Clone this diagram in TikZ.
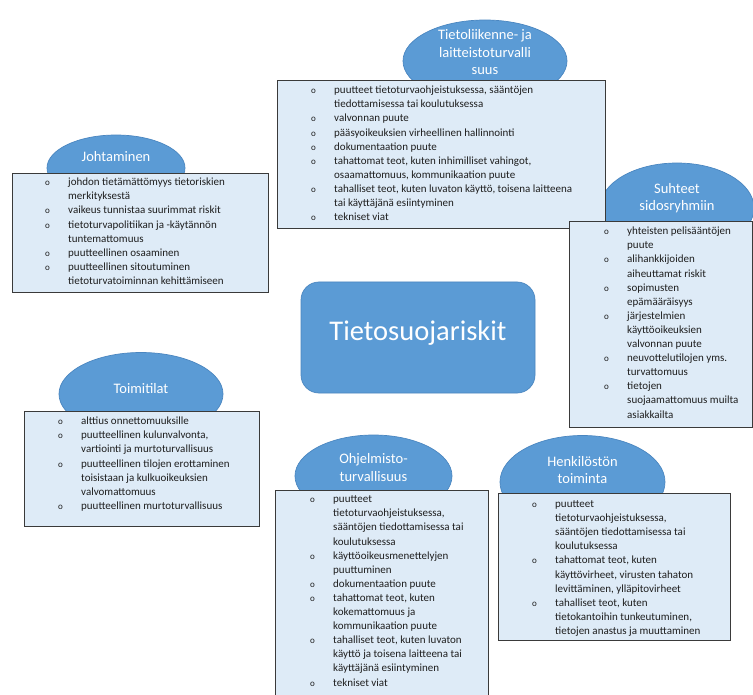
\documentclass[tikz,border=0pt]{standalone}
\usepackage{fontspec}
\setmainfont{Carlito}
\usetikzlibrary{shapes.geometric}
\definecolor{ellfill}{HTML}{5B9BD5}
\definecolor{elldraw}{HTML}{4A86C0}
\definecolor{boxfill}{HTML}{DEEBF7}
\definecolor{boxdraw}{HTML}{3A3A3A}
\definecolor{txt}{HTML}{1E1E1E}
\newcommand\bu{\makebox[23pt][l]{\fontsize{9}{14.1}\selectfont o}}
\newcommand\blist[1]{\begin{tabular}{@{}l@{}l@{}}#1\end{tabular}}
\begin{document}
\begin{tikzpicture}[x=1pt,y=-1pt,
  ell/.style={ellipse, fill=ellfill, draw=elldraw, line width=0.7pt, inner sep=0pt},
  elltext/.style={text=white, font=\fontsize{14.5}{17.5}\selectfont, align=center, inner sep=0pt},
  riskbox/.style={rectangle, fill=boxfill, draw=boxdraw, line width=1.3pt, anchor=north west, inner sep=0pt},
  listtext/.style={anchor=north west, inner sep=0pt, text=txt, font=\fontsize{11}{14.1}\selectfont},
  centerbox/.style={rectangle, rounded corners=18pt, fill=ellfill, draw=elldraw, line width=0.7pt,
     minimum width=234pt, minimum height=111pt, text=white, font=\fontsize{28.5}{32}\selectfont}]
\useasboundingbox (0,0) rectangle (753,695);
\clip (0,0) rectangle (753,695);
\fill[white] (0,0) rectangle (753,695);

% ellipses
\node[ell, minimum width=164pt, minimum height=82pt] (e1) at (485,61) {};
\node[ell, minimum width=138pt, minimum height=66pt] (e2) at (116,168) {};
\node[ell, minimum width=154pt, minimum height=90pt] (e3) at (677,208) {};
\node[ell, minimum width=164pt, minimum height=83pt] (e4) at (141,394) {};
\node[ell, minimum width=157pt, minimum height=82pt] (e5) at (373.5,476) {};
\node[ell, minimum width=165pt, minimum height=93pt] (e6) at (582.5,482) {};

\node[elltext] (l1) at (485,52.5) {Tietoliikenne- ja\\laitteistoturvalli\\suus};
\node[elltext] (l2) at (116,157) {Johtaminen};
\node[elltext] (l3) at (677,198) {Suhteet\\sidosryhmiin};
\node[elltext] (l4) at (141,389) {Toimitilat};
\node[elltext] (l5) at (373.5,467.5) {Ohjelmisto-\\turvallisuus};
\node[elltext] (l6) at (582.5,470) {Henkilöstön\\toiminta};

% central box
\node[centerbox] (c) at (418,337.5) {};
\node[text=white, font=\fontsize{28.5}{32}\selectfont, inner sep=0pt] (ct) at (418,333) {Tietosuojariskit};

% boxes
\node[riskbox, minimum width=328pt, minimum height=148pt] (b1) at (277,80) {};
\node[listtext] (t1) at ([xshift=34pt,yshift=-3.7pt]b1.north west) {\blist{
\bu & puutteet tietoturvaohjeistuksessa, sääntöjen\\
 & tiedottamisessa tai koulutuksessa\\
\bu & valvonnan puute\\
\bu & pääsyoikeuksien virheellinen hallinnointi\\
\bu & dokumentaation puute\\
\bu & tahattomat teot, kuten inhimilliset vahingot,\\
 & osaamattomuus, kommunikaation puute\\
\bu & tahalliset teot, kuten luvaton käyttö, toisena laitteena\\
 & tai käyttäjänä esiintyminen\\
\bu & tekniset viat\\}};

\node[riskbox, minimum width=183pt, minimum height=206pt] (b3) at (569,221) {};
\node[listtext] (t3) at ([xshift=35pt,yshift=-3.7pt]b3.north west) {\blist{
\bu & yhteisten pelisääntöjen\\
 & puute\\
\bu & alihankkijoiden\\
 & aiheuttamat riskit\\
\bu & sopimusten\\
 & epämääräisyys\\
\bu & järjestelmien\\
 & käyttöoikeuksien\\
 & valvonnan puute\\
\bu & neuvottelutilojen yms.\\
 & turvattomuus\\
\bu & tietojen\\
 & suojaamattomuus muilta\\
 & asiakkailta\\}};

\node[riskbox, minimum width=256pt, minimum height=119pt] (b2) at (12,173) {};
\node[listtext] (t2) at ([xshift=33pt,yshift=-2.7pt]b2.north west) {\blist{
\bu & johdon tietämättömyys tietoriskien\\
 & merkityksestä\\
\bu & vaikeus tunnistaa suurimmat riskit\\
\bu & tietoturvapolitiikan ja -käytännön\\
 & tuntemattomuus\\
\bu & puutteellinen osaaminen\\
\bu & puutteellinen sitoutuminen\\
 & tietoturvatoiminnan kehittämiseen\\}};

\node[riskbox, minimum width=235pt, minimum height=115pt] (b4) at (24,411) {};
\node[listtext] (t4) at ([xshift=34pt,yshift=-3.7pt]b4.north west) {\blist{
\bu & alttius onnettomuuksille\\
\bu & puutteellinen kulunvalvonta,\\
 & vartiointi ja murtoturvallisuus\\
\bu & puutteellinen tilojen erottaminen\\
 & toisistaan ja kulkuoikeuksien\\
 & valvomattomuus\\
\bu & puutteellinen murtoturvallisuus\\}};

\node[riskbox, minimum width=213pt, minimum height=220pt] (b5) at (275,490) {};
\node[listtext] (t5) at ([xshift=35pt,yshift=-2.7pt]b5.north west) {\blist{
\bu & puutteet\\
 & tietoturvaohjeistuksessa,\\
 & sääntöjen tiedottamisessa tai\\
 & koulutuksessa\\
\bu & käyttöoikeusmenettelyjen\\
 & puuttuminen\\
\bu & dokumentaation puute\\
\bu & tahattomat teot, kuten\\
 & kokemattomuus ja\\
 & kommunikaation puute\\
\bu & tahalliset teot, kuten luvaton\\
 & käyttö ja toisena laitteena tai\\
 & käyttäjänä esiintyminen\\
\bu & tekniset viat\\}};

\node[riskbox, minimum width=232pt, minimum height=147pt] (b6) at (498,493) {};
\node[listtext] (t6) at ([xshift=34pt,yshift=-4.5pt]b6.north west) {\blist{
\bu & puutteet\\
 & tietoturvaohjeistuksessa,\\
 & sääntöjen tiedottamisessa tai\\
 & koulutuksessa\\
\bu & tahattomat teot, kuten\\
 & käyttövirheet, virusten tahaton\\
 & levittäminen, ylläpitovirheet\\
\bu & tahalliset teot, kuten\\
 & tietokantoihin tunkeutuminen,\\
 & tietojen anastus ja muuttaminen\\}};
\end{tikzpicture}
\end{document}
